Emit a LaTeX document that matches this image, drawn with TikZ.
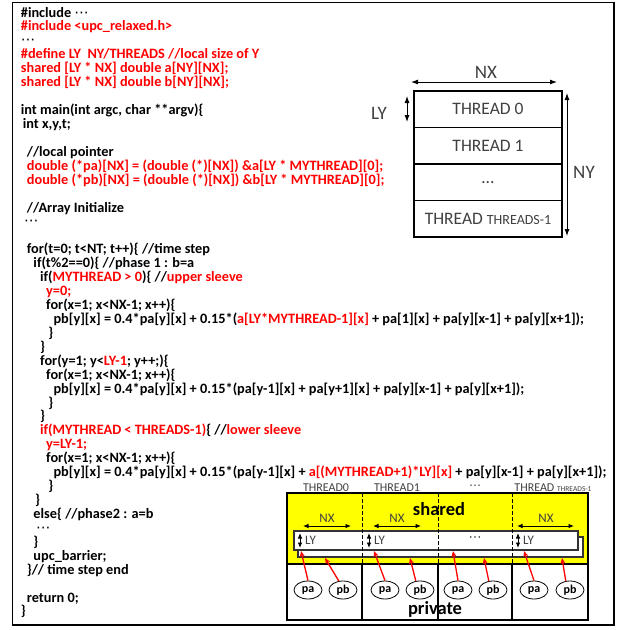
\documentclass[tikz,border=0pt]{standalone}
\usepackage{fontspec}
\setmainfont{Carlito}
\newfontfamily\symfont{DejaVu Sans}
\usetikzlibrary{shapes.geometric,arrows.meta}
\definecolor{hl}{RGB}{255,0,0}
\definecolor{ink}{RGB}{64,64,64}
\definecolor{sharedfill}{RGB}{255,255,0}
\newcommand\mdots{{\symfont\mdseries ⋯}}
% one line of source code, placed on its own baseline
\newcommand\codeln[3]{\node[code] (L#1) at (#2,{17+(#1-1)*13.93}) {#3};}
\tikzset{
  code/.style={anchor=base west, inner sep=0pt, font=\fontsize{14.3}{14.3}\selectfont\bfseries},
  rowbox/.style={draw, line width=1.2pt, minimum width=148pt, minimum height=36.5pt,
    inner sep=0pt, text=ink, font=\fontsize{17.5}{17.5}\selectfont},
  biglab/.style={text=ink, inner sep=0pt, font=\fontsize{19}{19}\selectfont},
  dim/.style={{Latex[length=7pt,width=5pt]}-{Latex[length=7pt,width=5pt]}, line width=0.9pt},
  smalldim/.style={{Latex[length=5.5pt,width=4.5pt]}-{Latex[length=5.5pt,width=4.5pt]}, line width=0.9pt},
  thlab/.style={text=ink, inner sep=0pt, font=\fontsize{12}{12}\selectfont},
  cell/.style={text=ink, inner sep=0pt, font=\fontsize{13}{13}\selectfont},
  ell/.style={ellipse, draw, line width=0.8pt, fill=white, minimum width=28pt, minimum height=18pt,
    inner sep=0pt, font=\fontsize{12}{12}\selectfont\bfseries},
  ptr/.style={-{Stealth[length=6pt,width=5pt]}, draw=hl, line width=1.3pt},
  strip/.style={draw=black!80, line width=1.2pt, fill=white},
  divider/.style={line width=1pt, dash pattern=on 4pt off 2pt},
}
\begin{document}
\begin{tikzpicture}[x=1pt,y=-1pt]
\useasboundingbox (0,0) rectangle (620,630);
\draw[line width=1.2pt] (12.5,2.5) rectangle (614,625);

% ---------------- source listing ----------------
\codeln{1}{20.7}{\#include \mdots}
\codeln{2}{20.7}{\textcolor{hl}{\#include <upc\_relaxed.h>}}
\codeln{3}{20.7}{\mdots}
\codeln{4}{20.7}{\textcolor{hl}{\#define LY\ \ NY/THREADS //local size of Y}}
\codeln{5}{20.7}{\textcolor{hl}{shared [LY * NX] double a[NY][NX];}}
\codeln{6}{20.7}{\textcolor{hl}{shared [LY * NX] double b[NY][NX];}}
\codeln{8}{20.7}{int main(int argc, char **argv)\{}
\codeln{9}{22.7}{int x,y,t;}
\codeln{11}{26.7}{//local pointer}
\codeln{12}{26.7}{\textcolor{hl}{double (*pa)[NX] = (double (*)[NX]) \&a[LY * MYTHREAD][0];}}
\codeln{13}{26.7}{\textcolor{hl}{double (*pb)[NX] = (double (*)[NX]) \&b[LY * MYTHREAD][0];}}
\codeln{15}{26.7}{//Array Initialize}
\codeln{16}{24}{\mdots}
\codeln{18}{26.7}{for(t=0; t<NT; t++)\{ //time step}
\codeln{19}{33.3}{if(t\%2==0)\{ //phase 1 : b=a}
\codeln{20}{40}{if(\textcolor{hl}{MYTHREAD > 0})\{ //\textcolor{hl}{upper sleeve}}
\codeln{21}{46}{\textcolor{hl}{y=0;}}
\codeln{22}{46}{for(x=1; x<NX-1; x++)\{}
\codeln{23}{53.3}{pb[y][x] = 0.4*pa[y][x] + 0.15*(\textcolor{hl}{a[LY*MYTHREAD-1][x]} + pa[1][x] + pa[y][x-1] + pa[y][x+1]);}
\codeln{24}{48.3}{\}}
\codeln{25}{40}{\}}
\codeln{26}{40}{for(y=1; y<\textcolor{hl}{LY-1}; y++;)\{}
\codeln{27}{46}{for(x=1; x<NX-1; x++)\{}
\codeln{28}{53.3}{pb[y][x] = 0.4*pa[y][x] + 0.15*(pa[y-1][x] + pa[y+1][x] + pa[y][x-1] + pa[y][x+1]);}
\codeln{29}{48.3}{\}}
\codeln{30}{40}{\}}
\codeln{31}{40}{\textcolor{hl}{if(MYTHREAD < THREADS-1)}\{ //\textcolor{hl}{lower sleeve}}
\codeln{32}{46}{\textcolor{hl}{y=LY-1;}}
\codeln{33}{46}{for(x=1; x<NX-1; x++)\{}
\codeln{34}{53.3}{pb[y][x] = 0.4*pa[y][x] + 0.15*(pa[y-1][x] + \textcolor{hl}{a[(MYTHREAD+1)*LY][x]} + pa[y][x-1] + pa[y][x+1]);}
\codeln{35}{48.3}{\}}
\codeln{36}{35}{\}}
\codeln{37}{33.3}{else\{ //phase2 : a=b}
\codeln{38}{36}{\mdots}
\codeln{39}{33.3}{\}}
\codeln{40}{33.3}{upc\_barrier;}
\codeln{41}{26.7}{\}// time step end}
\codeln{43}{26.7}{return 0;}
\codeln{44}{20.7}{\}}

% ---------------- global array split into thread blocks ----------------
\node[rowbox] (r0) at (488,109.25) {THREAD 0};
\node[rowbox] (r1) at (488,145.75) {THREAD 1};
\node[rowbox] (r2) at (488,182.25) {…};
\node[rowbox] (r3) at (488,218.75) {THREAD {\fontsize{14}{14}\selectfont THREADS-1}};

\node[biglab] (nx) at (486,72) {NX};
\node[biglab] (ly) at (379,113) {LY};
\node[biglab] (ny) at (584,172) {NY};
\coordinate (nxa) at (411,82);  \coordinate (nxb) at (557,82);
\coordinate (lya) at (407,96);  \coordinate (lyb) at (407,122);
\coordinate (nya) at (567,93);  \coordinate (nyb) at (567,236);
\draw[dim] (nxa) -- (nxb);
\draw[dim] (lya) -- (lyb);
\draw[dim] (nya) -- (nyb);

% ---------------- shared / private layout ----------------
\fill[sharedfill] (287,493) rectangle (588,564);
\draw[line width=1.2pt] (287,493) rectangle (588,564);
\draw[line width=1.2pt] (287,564) rectangle (588,620);

\node[thlab] (t0) at (326,488) {THREAD0};
\node[thlab] (t1) at (397,488) {THREAD1};
\node[thlab] (t2) at (475,487) {\mdots};
\node[thlab] (t3) at (553,488) {THREAD {\fontsize{7.5}{7.5}\selectfont THREADS-1}};

\node[inner sep=0pt, font=\fontsize{18.5}{18.5}\selectfont\bfseries] (sh) at (439,509) {shared};
\node[inner sep=0pt, font=\fontsize{18.5}{18.5}\selectfont\bfseries] (pr) at (435,609) {private};

% NX extents per thread
\node[cell] (nx0) at (327,518) {NX};
\node[cell] (nx1) at (397,518) {NX};
\node[cell] (nx3) at (546,518) {NX};
\coordinate (a0) at (303,526); \coordinate (b0) at (351,526);
\coordinate (a1) at (373,526); \coordinate (b1) at (421,526);
\coordinate (a3) at (517,526); \coordinate (b3) at (574,526);
\draw[smalldim] (a0) -- (b0);
\draw[smalldim] (a1) -- (b1);
\draw[smalldim] (a3) -- (b3);

% the two arrays a and b as stacked strips
\draw[strip] (298,537) rectangle (583,557);
\draw[strip] (294,531) rectangle (578,550);

% LY extents
\node[cell, anchor=west] (ly0) at (305,540.5) {LY};
\node[cell, anchor=west] (ly1) at (374,540.5) {LY};
\node[cell] (ly2) at (475,539) {\mdots};
\node[cell, anchor=west] (ly3) at (523,540.5) {LY};
\coordinate (c0) at (300,533); \coordinate (d0) at (300,548);
\coordinate (c1) at (369,533); \coordinate (d1) at (369,548);
\coordinate (c3) at (518,533); \coordinate (d3) at (518,548);
\draw[smalldim] (c0) -- (d0);
\draw[smalldim] (c1) -- (d1);
\draw[smalldim] (c3) -- (d3);

% thread boundaries
\foreach \x in {362,438,512} {
  \draw[divider] (\x,493) -- (\x,564);
  \draw[line width=1.2pt] (\x,564) -- (\x,620);
}

% private pointers
\node[ell] (pa0) at (308,590) {pa};  \node[ell] (pb0) at (343,590) {pb};
\node[ell] (pa1) at (385,590) {pa};  \node[ell] (pb1) at (420,590) {pb};
\node[ell] (pa2) at (458,590) {pa};  \node[ell] (pb2) at (493,590) {pb};
\node[ell] (pa3) at (534,590) {pa};  \node[ell] (pb3) at (570,590) {pb};

\coordinate (qa0) at (301,551); \coordinate (qb0) at (325,558);
\coordinate (qa1) at (374,551); \coordinate (qb1) at (410,558);
\coordinate (qa2) at (453,551); \coordinate (qb2) at (484,558);
\coordinate (qa3) at (524,551); \coordinate (qb3) at (562,558);
\foreach \i in {0,1,2,3} {
  \draw[ptr] (pa\i.north) -- (qa\i);
  \draw[ptr] (pb\i.115) -- (qb\i);
}
\end{tikzpicture}
\end{document}
